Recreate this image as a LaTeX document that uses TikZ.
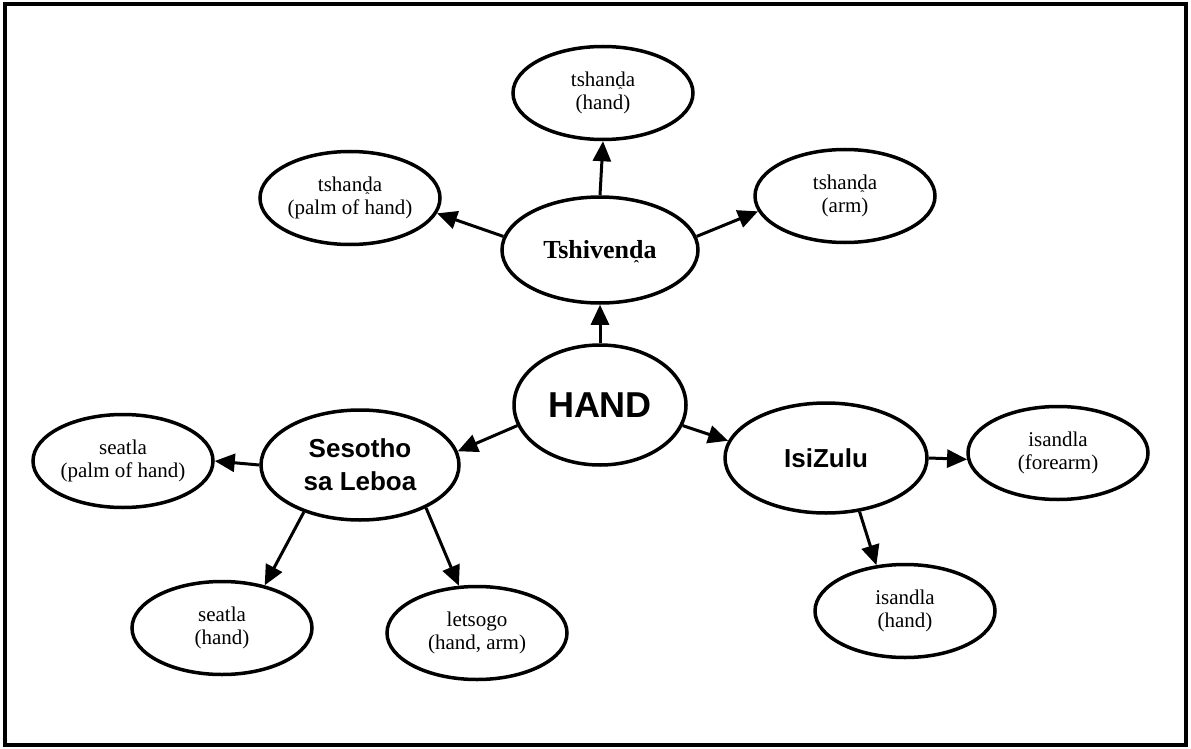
\documentclass[tikz,border=0pt]{standalone}
\usepackage{fontspec}
\usepackage{graphicx}
\setmainfont{Liberation Serif}
\setsansfont{Liberation Sans}
\usetikzlibrary{arrows.meta,shapes.geometric}
\newcommand{\dcirc}{\ooalign{d\cr\hidewidth\smash{\raisebox{-0.47em}{\scalebox{0.6}{\symbol{"02C6}}}}\hidewidth\cr}}

\begin{document}
\begin{tikzpicture}[x=1pt, y=-1pt, every node/.style={font=\fontsize{21}{23}\selectfont}, oval/.style={draw,ellipse,line width=3.5pt,inner sep=0pt,align=center,minimum width=180pt,minimum height=93pt}, lang/.style={oval,minimum width=198pt,minimum height=110pt,font=\fontsize{26}{33}\selectfont\sffamily\bfseries}, arr/.style={-{Triangle[length=20pt,width=18pt]},line width=3pt}]
\useasboundingbox (0,0) rectangle (1191,749);
\draw[line width=3.5pt] (5,4) rectangle (1186,745);
\node[oval,minimum width=172pt,minimum height=120pt,font=\fontsize{36}{40}\selectfont\sffamily\bfseries] (hand) at (600,405) {HAND};
\node[lang,minimum width=196pt,minimum height=106pt,font=\fontsize{26}{30}\selectfont\bfseries] (tshivenda) at (600,250) {Tshiven\dcirc a};
\node[lang] (sesotho) at (360,465) {Sesotho\\sa Leboa};
\node[lang,minimum width=202pt] (isizulu) at (826,458) {IsiZulu};
\node[oval] (tshhand) at (603,93) {tshan\dcirc a\\(hand)};
\node[oval] (tshpalm) at (350,198) {tshan\dcirc a\\(palm of hand)};
\node[oval] (tsharm) at (845,196) {tshan\dcirc a\\(arm)};
\node[oval] (stpalm) at (123,461) {seatla\\(palm of hand)};
\node[oval] (sthand) at (222,628) {seatla\\(hand)};
\node[oval] (letsogo) at (477,633) {letsogo\\(hand, arm)};
\node[oval] (zuforearm) at (1058,453) {isandla\\(forearm)};
\node[oval] (zuhand) at (905,611) {isandla\\(hand)};
\draw[arr] (hand.north) -- (tshivenda.south);
\draw[arr] (tshivenda.north) -- (tshhand.south);
\draw[arr] (tshivenda.172) -- (tshpalm.-10);
\draw[arr] (tshivenda.8) -- (tsharm.190);
\draw[arr] (hand.194) -- (sesotho.8);
\draw[arr] (hand.-14) -- (isizulu.170);
\draw[arr] (sesotho.180) -- (stpalm.0);
\draw[arr] (sesotho.220) -- (sthand.45);
\draw[arr] (sesotho.-33) -- (letsogo.111);
\draw[arr] (isizulu.0) -- (zuforearm.184);
\draw[arr] (isizulu.-58) -- (zuhand.122);
\end{tikzpicture}
\end{document}
